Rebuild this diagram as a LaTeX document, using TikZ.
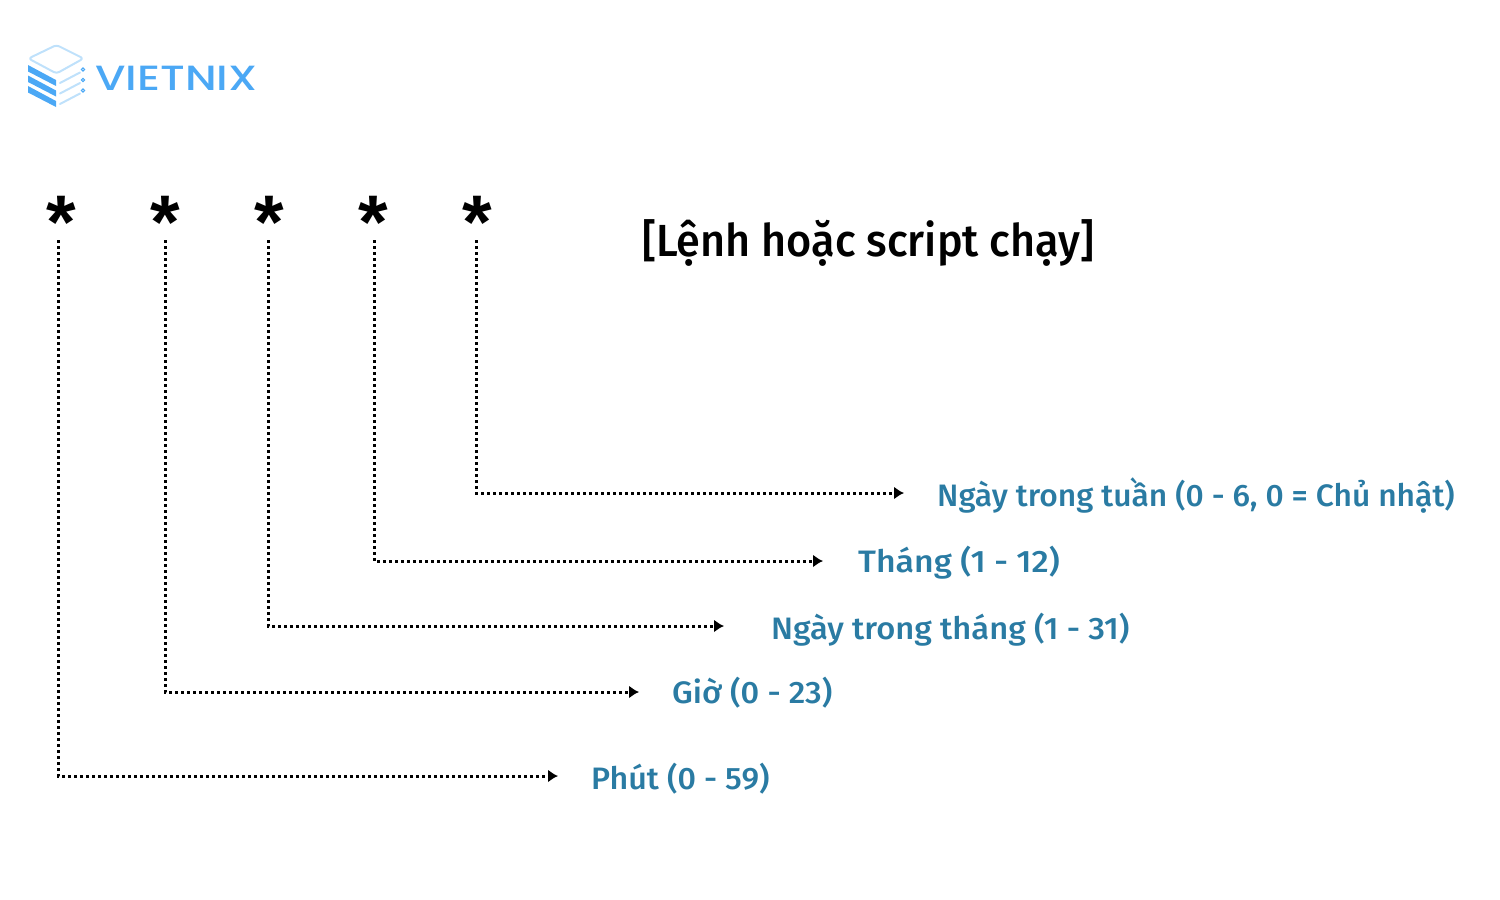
\documentclass[tikz,border=0pt]{standalone}
\usepackage{fontspec}
\usepackage{graphicx}
\setmainfont{Open Sans}
\newfontfamily\lblfont{Fira Sans}[UprightFont={* Medium},BoldFont={* Medium}]
\newfontfamily\ttlfont{Fira Sans}[UprightFont={* Medium},BoldFont={* Medium}]
\newfontfamily\logofont{Poppins}[UprightFont={* Medium}]
\newfontfamily\starfont{Liberation Sans}[BoldFont={* Bold}]
\definecolor{lblblue}{HTML}{2A7BA3}
\definecolor{logoblue}{HTML}{4BA8F5}
\definecolor{logolight}{HTML}{BFE1FB}
\usetikzlibrary{arrows.meta}
\tikzset{
  x=1pt,y=-1pt,
  stargl/.style={inner sep=0pt,font=\fontsize{76}{76}\selectfont\starfont\bfseries,text=black},
  lbl/.style={inner sep=0pt,anchor=base west,text=lblblue,font=\fontsize{31}{31}\selectfont\lblfont},
  conn/.style={line width=3pt,dash pattern=on 3pt off 3pt,-{Latex[length=10pt,width=13pt]},black},
  lightl/.style={line width=2pt,draw=logolight,line cap=round},
  stripe/.style={fill=logoblue,draw=none},
}
\begin{document}
\begin{tikzpicture}
\useasboundingbox (0,0) rectangle (1500,900);
% logo
\draw[line width=2pt,draw=logolight,line join=round,rounded corners=3pt] (28.5,58.5) -- (56.5,45) -- (83.5,58.5) -- (56.5,73.5) -- cycle;
\foreach \d in {0,10.5,21}{
  \fill[stripe] (28,65+\d) -- (56,80+\d) -- (56,86+\d) -- (28,71.5+\d) -- cycle;
  \draw[lightl] (60,83+\d) -- (80,72.5+\d);
  \draw[draw=logoblue,line width=1pt,fill=white] (83,69.5+\d) circle (1.6);
}
\node[inner sep=0pt,anchor=base west,text=logoblue] (logo) at (95,90) {\scalebox{1.255}[1]{\logofont\fontsize{35}{35}\selectfont VIETNIX}};
% stars
\node[stargl] (s1) at (61,222) {*};
\node[stargl] (s2) at (165,222) {*};
\node[stargl] (s3) at (269,222) {*};
\node[stargl] (s4) at (373,222) {*};
\node[stargl] (s5) at (477,222) {*};
\node[inner sep=0pt,anchor=base west] (title) at (642,256) {\ttlfont\fontsize{45}{45}\selectfont\scalebox{0.96}[1]{[Lệnh hoặc script chạy]}};
% labels
\node[lbl] (l5) at (937,506) {\scalebox{1.025}[1]{Ngày trong tuần (0 - 6, 0 = Chủ nhật)}};
\node[lbl] (l4) at (858,572) {\scalebox{1.09}[1]{Tháng (1 - 12)}};
\node[lbl] (l3) at (771,639) {\scalebox{1.055}[1]{Ngày trong tháng (1 - 31)}};
\node[lbl] (l2) at (672,703) {\scalebox{1.05}[1]{Giờ (0 - 23)}};
\node[lbl] (l1) at (591,789) {\scalebox{1.04}[1]{Phút (0 - 59)}};
% connector ends
\coordinate (t1) at (58,240); \coordinate (e1) at (558,776);
\coordinate (t2) at (165,240); \coordinate (e2) at (639,692);
\coordinate (t3) at (268,240); \coordinate (e3) at (724,626);
\coordinate (t4) at (374,240); \coordinate (e4) at (823,561);
\coordinate (t5) at (476,240); \coordinate (e5) at (904,493);
\foreach \i in {1,...,5}{\draw[conn] (t\i) |- (e\i);}
\end{tikzpicture}
\end{document}
